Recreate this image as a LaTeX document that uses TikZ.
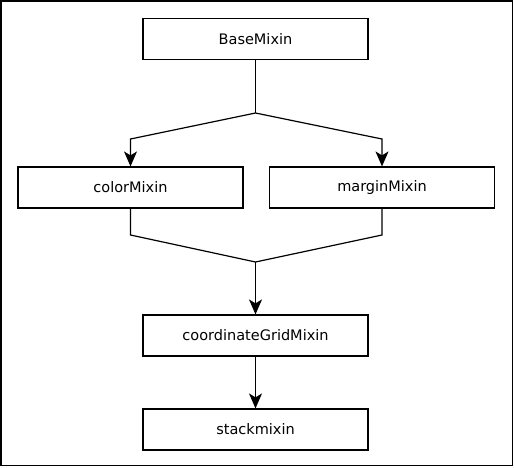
\documentclass[tikz,border=0pt]{standalone}
\usepackage{fontspec}
\setmainfont{DejaVu Sans}
\usetikzlibrary{arrows.meta}
\tikzset{
    mixin/.style = {draw, line width = 1.2pt, minimum width = 225pt, minimum height = 41pt, inner sep = 0pt, font = \fontsize{14.5}{17}\selectfont},
    link/.style = {line width = 1.2pt},
    inherit/.style = {line width = 1.2pt, -{Stealth[length = 15pt, width = 13pt, inset = 4pt]}}
}
\begin{document}
\begin{tikzpicture}[x = 1pt, y = -1pt]
            \useasboundingbox (0, 0) rectangle (514, 467);
            \draw [line width = 1.5pt] (1, 1) rectangle (512.5, 465.5);
            \node [mixin] (base) at (255.5, 39) {BaseMixin};
            \node [mixin] (color) at (130.5, 187.5) {colorMixin};
            \node [mixin] (margin) at (382, 187.5) {marginMixin};
            \node [mixin] (grid) at (255.5, 335.5) {coordinateGridMixin};
            \node [mixin] (stack) at (255.5, 429.5) {stackmixin};
            \coordinate (split) at (255.5, 113);
            \coordinate (splitL) at (130.5, 139);
            \coordinate (splitR) at (382, 139);
            \coordinate (joinL) at (130.5, 235);
            \coordinate (joinR) at (382, 235);
            \coordinate (join) at (255.5, 262);
            \draw [link] (base.south) -- (split);
            \draw [inherit] (split) -- (splitL) -- (color.north);
            \draw [inherit] (split) -- (splitR) -- (margin.north);
            \draw [link] (color.south) -- (joinL) -- (join);
            \draw [link] (margin.south) -- (joinR) -- (join);
            \draw [inherit] (join) -- (grid.north);
            \draw [inherit] (grid.south) -- (stack.north);
        \end{tikzpicture}
\end{document}
